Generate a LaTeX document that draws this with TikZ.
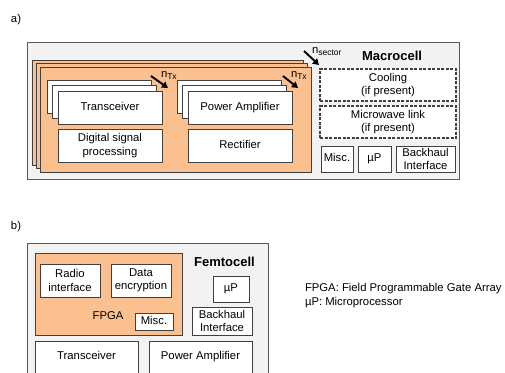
\documentclass[tikz,border=0pt]{standalone}
\usepackage{fontspec}
\setmainfont{Liberation Sans}
\usetikzlibrary{arrows.meta}
\definecolor{orng}{HTML}{FAC090}
\definecolor{bggray}{HTML}{F2F2F2}
\definecolor{edge}{HTML}{404040}
\definecolor{outeredge}{HTML}{595959}
\newcommand{\subtxt}[1]{\raisebox{-2.5pt}{\fontsize{8.5}{9}\selectfont #1}}
\begin{document}
\begin{tikzpicture}[x=1pt,y=-1pt,
  txt/.style={font=\fontsize{11.3}{13.3}\selectfont},
  box/.style={txt, draw=edge, fill=white, line width=0.8pt, inner sep=1pt, outer sep=0pt, anchor=north west, align=center},
  one/.style={text height=8.2pt, text depth=2.4pt},
  wide/.style={box, minimum width=104pt, minimum height=33pt},
  layer/.style={draw=edge, fill=orng, line width=0.8pt, inner sep=0pt, outer sep=0pt, anchor=north west},
  dbox/.style={box, dash pattern=on 3pt off 1.5pt, line width=1.1pt, minimum width=136pt, minimum height=32pt},
  container/.style={draw=outeredge, fill=bggray, line width=0.9pt, inner sep=0pt, outer sep=0pt, anchor=north west},
  arr/.style={-{Triangle[length=6pt,width=7pt]}, line width=1.9pt, black},
  lbl/.style={txt, inner sep=0pt, outer sep=0pt},
  title/.style={font=\bfseries\fontsize{13}{15}\selectfont, inner sep=0pt}
]
\clip (0,0) rectangle (505,372);
\fill[white] (0,0) rectangle (505,372);

% ---------- a) Macrocell ----------
\node[lbl] (la) at (16,20) {a)};
\node[container, minimum width=432pt, minimum height=137pt] (macro) at (27,42) {};
\node[layer, minimum width=271pt, minimum height=105pt] (l1) at (32,60) {};
\node[layer, minimum width=271pt, minimum height=105pt] (l2) at (36,63.5) {};
\node[layer, minimum width=271pt, minimum height=105pt] (l3) at (40,67) {};

\node[wide] (tb1) at (47,80) {};
\node[wide] (tb2) at (52.5,85.5) {};
\node[wide, one] (trx) at (58,91) {Transceiver};
\node[wide] (dsp) at (58,129) {Digital signal\\processing};

\node[wide] (pb1) at (177,80) {};
\node[wide] (pb2) at (182.5,85.5) {};
\node[wide, one] (pa) at (188,91) {Power Amplifier};
\node[wide, one] (rect) at (188,129) {Rectifier};

\coordinate (a1s) at (151,76);
\coordinate (a1e) at (168,88);
\draw[arr] (a1s) -- (a1e);
\node[lbl, anchor=base west] (ntx1) at (161,77) {n\subtxt{Tx}};

\coordinate (a2s) at (283,76);
\coordinate (a2e) at (298,88);
\draw[arr] (a2s) -- (a2e);
\node[lbl, anchor=base west] (ntx2) at (291,77) {n\subtxt{Tx}};

\coordinate (a3s) at (304,51);
\coordinate (a3e) at (319,65);
\draw[arr] (a3s) -- (a3e);
\node[lbl, anchor=base west] (nsec) at (312,53) {n\subtxt{sector}};

\node[title] (mtitle) at (392,56) {Macrocell};
\node[dbox] (cool) at (320,69) {Cooling\\(if present)};
\node[dbox] (mw) at (320,106) {Microwave link\\(if present)};
\node[box, one, minimum width=32pt, minimum height=26pt] (mmisc) at (321,146) {Misc.};
\node[box, one, minimum width=33pt, minimum height=26pt] (mup) at (358,146) {µP};
\node[box, minimum width=59pt, minimum height=26pt, inner sep=0pt] (mbh) at (396,146) {Backhaul\\Interface};

% ---------- b) Femtocell ----------
\node[lbl] (lb) at (16,227) {b)};
\node[container, minimum width=241pt, minimum height=140pt] (femto) at (27,243) {};
\node[layer, minimum width=147pt, minimum height=82pt] (fpga) at (35,253) {};
\node[box, minimum width=60pt, minimum height=33pt] (radio) at (40,264) {Radio\\interface};
\node[box, minimum width=60pt, minimum height=33pt] (enc) at (111,264) {Data\\encryption};
\node[lbl] (fpgalbl) at (108,316) {FPGA};
\node[box, one, minimum width=38pt, minimum height=17pt] (fmisc) at (135,313) {Misc.};
\node[title] (ftitle) at (224.5,262) {Femtocell};
\node[box, one, minimum width=36pt, minimum height=26pt] (fup) at (213,276) {µP};
\node[box, minimum width=60pt, minimum height=28pt, inner sep=0pt] (fbh) at (192,307) {Backhaul\\Interface};
\node[box, one, minimum width=103pt, minimum height=32pt] (ftrx) at (35,341) {Transceiver};
\node[box, one, minimum width=103pt, minimum height=32pt] (fpa) at (149,341) {Power Amplifier};

\node[lbl, anchor=west, align=left] (legend) at (305,295.5) {FPGA: Field Programmable Gate Array\\µP: Microprocessor};
\end{tikzpicture}
\end{document}
